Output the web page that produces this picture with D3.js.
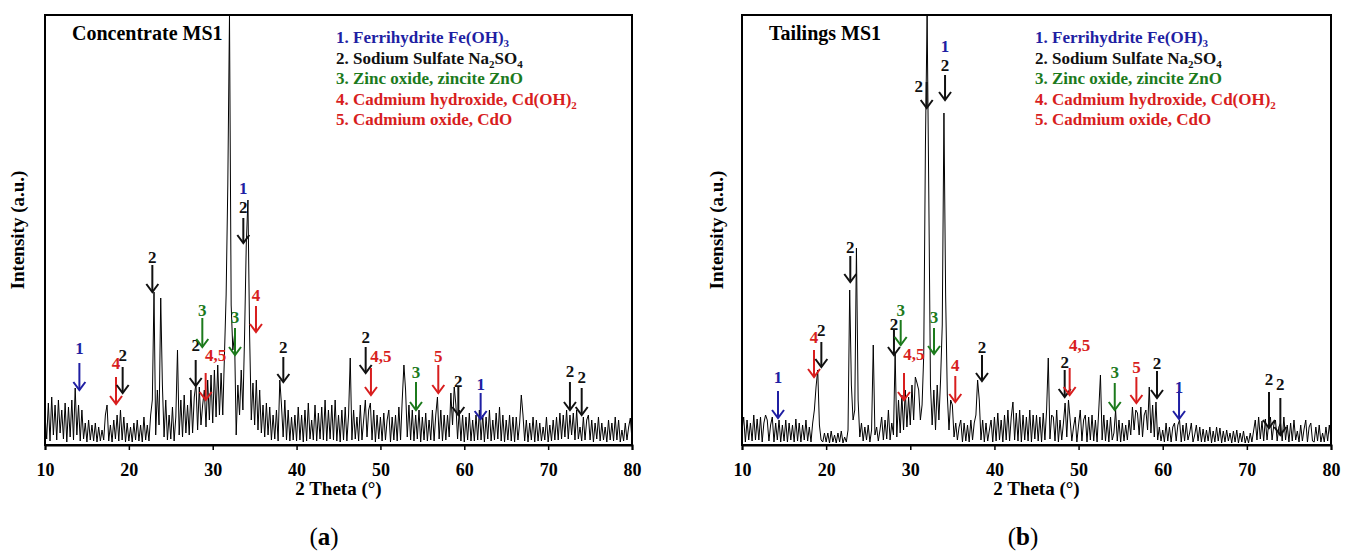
<!DOCTYPE html>
<html><head><meta charset="utf-8">
<script src="https://cdn.jsdelivr.net/npm/d3@7"></script>
<style>
body{margin:0;background:#fff}
svg{display:block}
text{font-family:"Liberation Serif","Times New Roman",serif}
</style>
</head><body>
<svg id="c" width="1352" height="552"></svg>
<script>
// ---------------- DATA ----------------
const thetaStart = 10, thetaStep = 0.2;   // 2θ sampling of the patterns (degrees)
const xTicks = [10, 20, 30, 40, 50, 60, 70, 80];

// Concentrate MS1 intensities (a.u.), 10.0° .. 80.0° every 0.2°
const intensityA = [
 30,6,42,4,48, 10,40,5,45,12, 35,6,42,3,38, 8,45,5,57,10, 40,4,35,6,22,
 3,25,5,20,4, 22,3,18,4,15, 5,30,40,4,20, 3,25,6,30,4, 35,5,28,3,22,
 4,18,3,22,5, 25,4,20,3,28, 5,20,4,30,45, 153,10,55,20,147, 60,8,45,5,30,
 6,38,4,28,95, 10,45,8,50,12, 40,10,55,12,48, 62,15,58,20,40, 55,18,65,25,70,
 22,75,28,80,30, 72,30,90,150,260, 430,140,95,110,10, 60,30,75,35,110, 200,245,110,25,62,
 20,65,15,55,12, 40,8,42,10,38, 5,30,6,35,4, 65,40,8,45,5, 35,4,28,5,30,
 4,38,5,30,3, 35,4,42,6,25, 5,40,4,32,6, 38,5,45,4,35, 6,40,5,45,4,
 30,3,35,5,38, 4,30,87,5,35, 6,28,4,40,5, 25,45,8,35,42, 5,35,3,30,6,
 28,4,32,5,25, 35,3,28,5,30, 4,38,5,45,80, 55,8,40,5,35, 4,30,6,35,3,
 28,5,32,4,25, 5,35,4,30,48, 6,35,4,30,5, 30,8,52,20,58, 40,6,35,4,30,
 3,28,5,32,4, 25,4,30,5,35, 5,30,3,28,6, 35,4,25,5,32, 6,38,4,30,3,
 25,5,30,4,28, 3,28,5,22,50, 30,4,25,3,22, 5,28,3,25,4, 22,4,18,5,28,
 3,20,4,25,5, 28,5,32,6,30, 8,35,6,30,10, 32,5,35,6,18, 4,28,5,25,30,
 5,25,3,22,6, 28,4,22,5,18, 3,25,5,22,4, 28,5,25,3,15, 4,22,5,18,27,
 5
];

// Tailings MS1 intensities (a.u.), 10.0° .. 80.0° every 0.2°
const intensityB = [
 15,28,3,25,5, 22,4,30,5,26, 5,28,3,22,30, 25,4,20,28,3, 22,5,25,3,20,
 4,25,3,22,5, 20,3,26,4,22, 3,20,5,25,4, 18,3,22,35,58, 75,20,5,3,12,
 3,12,2,14,3, 10,2,12,3,14, 2,8,3,15,155, 60,25,35,197,45, 8,22,4,18,5,
 20,3,15,100,10, 18,4,15,28,5, 25,6,35,5,22, 10,92,8,45,12, 50,15,55,18,48,
 20,60,25,68,62, 55,25,40,90,300, 430,250,60,20,55, 15,60,25,65,120, 332,150,50,15,45,
 40,8,22,5,18, 25,3,22,4,20, 3,25,5,22,30, 65,45,5,25,3, 22,4,15,25,3,
 28,4,32,5,25, 3,30,5,35,4, 28,43,5,32,4, 35,3,30,5,28, 4,35,3,30,6,
 30,4,28,3,32, 5,35,87,6,30, 28,4,35,3,25, 5,22,42,8,45, 25,4,18,28,3,
 20,35,4,25,30, 3,28,5,30,4, 25,3,35,70,5, 30,4,25,3,28, 5,12,35,4,25,
 3,22,4,20,5, 25,10,38,15,35, 32,10,38,8,30, 35,15,58,12,40, 8,43,5,18,4,
 15,3,22,4,18, 3,18,22,4,20, 25,3,20,4,22, 5,12,22,3,10, 20,4,18,3,16,
 3,15,4,18,2, 14,3,18,4,17, 2,14,3,15,4, 12,2,14,3,15, 2,12,3,14,2,
 9,2,12,3,14, 25,5,28,6,24, 4,26,5,22,28, 5,20,25,4,18, 22,4,28,5,20,
 3,22,4,25,5, 14,3,20,4,16, 25,3,18,22,4, 3,18,4,20,3, 12,3,18,4,20,
 6
];

// Phase legend (text segments; 1 = subscript)
const phaseLegend = [
  {phase:1, parts:[["1. Ferrihydrite Fe(OH)",0],["3",1]]},
  {phase:2, parts:[["2. Sodium Sulfate Na",0],["2",1],["SO",0],["4",1]]},
  {phase:3, parts:[["3. Zinc oxide, zincite ZnO",0]]},
  {phase:4, parts:[["4. Cadmium hydroxide, Cd(OH)",0],["2",1]]},
  {phase:5, parts:[["5. Cadmium oxide, CdO",0]]}
];
const phaseColor = {1:"#1f1fa3", 2:"#111111", 3:"#1c7a1c", 4:"#d81e1e", 5:"#d81e1e"};

// Peak markers: 2θ, arrow tip / arrow top / label centre intensities (a.u.), label, phase
const markersA = [
  {t:14.1,  tip:55,  top:82,  lab:97,  text:"1",   phase:1},
  {t:18.47, tip:41,  top:68,  lab:82,  text:"4",   phase:4},
  {t:19.26, tip:52,  top:78,  lab:90,  text:"2",   phase:2},
  {t:22.8,  tip:153, top:180, lab:188, text:"2",   phase:2},
  {t:27.97, tip:59,  top:85,  lab:100, text:"2",   phase:2},
  {t:28.76, tip:98,  top:127, lab:135, text:"3",   phase:3},
  {t:29.16, tip:45,  top:72,  lab:90,  text:"4,5", phase:4},
  {t:32.66, tip:90,  top:117, lab:128, text:"3",   phase:3},
  {t:33.65, tip:202, top:227, lab:238, text:"2",   phase:2, extra:"1", extraPhase:1},
  {t:35.16, tip:113, top:139, lab:150, text:"4",   phase:4},
  {t:38.42, tip:63,  top:88,  lab:98,  text:"2",   phase:2},
  {t:48.24, tip:72,  top:98,  lab:108, text:"2",   phase:2},
  {t:48.87, tip:50,  top:77,  lab:89,  text:"4,5", phase:4},
  {t:54.24, tip:35,  top:63,  lab:73,  text:"3",   phase:3},
  {t:56.9,  tip:52,  top:80,  lab:89,  text:"5",   phase:5},
  {t:59.29, tip:30,  top:58,  lab:64,  text:"2",   phase:2},
  {t:61.95, tip:26,  top:52,  lab:61,  text:"1",   phase:1},
  {t:72.6,  tip:35,  top:63,  lab:74,  text:"2",   phase:2},
  {t:74.0,  tip:30,  top:57,  lab:68,  text:"2",   phase:2}
];
const markersB = [
  {t:14.28, tip:27,  top:54,  lab:68,  text:"1",   phase:1},
  {t:18.56, tip:68,  top:95,  lab:108, text:"4",   phase:4},
  {t:19.43, tip:78,  top:103, lab:115, text:"2",   phase:2},
  {t:22.87, tip:163, top:189, lab:198, text:"2",   phase:2},
  {t:28.06, tip:90,  top:115, lab:121, text:"2",   phase:2},
  {t:28.86, tip:100, top:125, lab:135, text:"3",   phase:3},
  {t:29.25, tip:45,  top:72,  lab:91,  text:"4,5", phase:4},
  {t:31.95, tip:337, top:363, lab:359, text:"2",   phase:2, side:"left"},
  {t:32.82, tip:91,  top:117, lab:128, text:"3",   phase:3},
  {t:34.13, tip:345, top:370, lab:380, text:"2",   phase:2, extra:"1", extraPhase:1},
  {t:35.35, tip:43,  top:69,  lab:80,  text:"4",   phase:4},
  {t:38.52, tip:64,  top:90,  lab:98,  text:"2",   phase:2},
  {t:48.35, tip:48,  top:75,  lab:83,  text:"2",   phase:2},
  {t:48.94, tip:50,  top:77,  lab:100, text:"4,5", phase:4},
  {t:54.3,  tip:35,  top:62,  lab:73,  text:"3",   phase:3},
  {t:56.87, tip:42,  top:68,  lab:78,  text:"5",   phase:5},
  {t:59.32, tip:47,  top:74,  lab:82,  text:"2",   phase:2},
  {t:61.94, tip:26,  top:54,  lab:58,  text:"1",   phase:1},
  {t:72.63, tip:17,  top:53,  lab:66,  text:"2",   phase:2},
  {t:73.98, tip:10,  top:47,  lab:61,  text:"2",   phase:2}
];

const titles = ["Concentrate MS1", "Tailings MS1"];
const panelLetters = ["a", "b"];

// ---------------- DRAW ----------------
const svg = d3.select("#c");
const panels = [
  {left:45,  right:632,  data:intensityA, markers:markersA, title:titles[0], letter:panelLetters[0], titleX:72,  legendX:336,  ylabX:24,  letterX:324},
  {left:742, right:1331, data:intensityB, markers:markersB, title:titles[1], letter:panelLetters[1], titleX:769, legendX:1035, ylabX:723, letterX:1023}
];
const plotTop = 15, plotBottom = 445;

panels.forEach((p, pi) => {
  const x = d3.scaleLinear().domain([10, 80]).range([p.left, p.right]);
  const y = d3.scaleLinear().domain([0, 430]).range([plotBottom, plotTop]);
  const g = svg.append("g");

  const clipId = "clip" + pi;
  svg.append("clipPath").attr("id", clipId).append("rect")
    .attr("x", p.left).attr("y", plotTop).attr("width", p.right - p.left).attr("height", plotBottom - plotTop);

  const line = d3.line()
    .x((d, i) => x(thetaStart + i * thetaStep))
    .y(d => y(d));
  g.append("path").datum(p.data)
    .attr("clip-path", `url(#${clipId})`)
    .attr("d", line)
    .attr("fill", "none").attr("stroke", "#000").attr("stroke-width", 1).attr("stroke-linejoin", "miter");

  // frame
  g.append("rect").attr("x", p.left).attr("y", plotTop)
    .attr("width", p.right - p.left).attr("height", plotBottom - plotTop)
    .attr("fill", "none").attr("stroke", "#000").attr("stroke-width", 2);

  // x axis
  const ax = d3.axisBottom(x).tickValues(xTicks).tickSize(5).tickPadding(13).tickFormat(d3.format("d"));
  const axg = g.append("g").attr("transform", `translate(0,${plotBottom})`).call(ax);
  axg.select(".domain").attr("stroke-width", 2);
  axg.selectAll(".tick line").attr("stroke-width", 1.5);
  axg.selectAll(".tick text").attr("font-family", "Liberation Serif").attr("font-weight", "bold").attr("font-size", 18).attr("fill", "#000");

  g.append("text").attr("x", (p.left + p.right) / 2).attr("y", 495)
    .attr("text-anchor", "middle").attr("font-weight", "bold").attr("font-size", 19)
    .text("2 Theta (°)");

  g.append("text").attr("transform", `translate(${p.ylabX},${(plotTop + plotBottom) / 2}) rotate(-90)`)
    .attr("text-anchor", "middle").attr("font-weight", "bold").attr("font-size", 19)
    .text("Intensity (a.u.)");

  // title
  g.append("text").attr("x", p.titleX).attr("y", 40)
    .attr("font-weight", "bold").attr("font-size", 20).text(p.title);

  // legend
  phaseLegend.forEach((L, i) => {
    const t = g.append("text").attr("x", p.legendX).attr("y", 43 + i * 20.5)
      .attr("font-weight", "bold").attr("font-size", 17).attr("fill", phaseColor[L.phase]);
    let prevSub = false;
    L.parts.forEach(([s, sub]) => {
      const ts = t.append("tspan").text(s);
      if (sub) { ts.attr("font-size", 11).attr("dy", 4); }
      else if (prevSub) { ts.attr("dy", -4); }
      prevSub = !!sub;
    });
  });

  // markers
  p.markers.forEach(m => {
    const cx = x(m.t), col = phaseColor[m.phase];
    const yt = y(m.tip), y0 = y(m.top);
    g.append("line").attr("x1", cx).attr("x2", cx).attr("y1", y0).attr("y2", yt)
      .attr("stroke", col).attr("stroke-width", 2);
    g.append("path").attr("d", `M${cx - 6},${yt - 8}L${cx},${yt}L${cx + 6},${yt - 8}`)
      .attr("fill", "none").attr("stroke", col).attr("stroke-width", 2);
    let dx = 0;
    if (m.text.length > 1) dx = 10;
    if (m.side === "left") dx = -8;
    g.append("text").attr("x", cx + dx).attr("y", y(m.lab) + 6)
      .attr("text-anchor", "middle").attr("font-weight", "bold").attr("font-size", 17)
      .attr("fill", col).text(m.text);
    if (m.extra) {
      g.append("text").attr("x", cx).attr("y", y(m.lab) + 6 - 19)
        .attr("text-anchor", "middle").attr("font-weight", "bold").attr("font-size", 17)
        .attr("fill", phaseColor[m.extraPhase]).text(m.extra);
    }
  });

  // panel letter
  const lt = g.append("text").attr("x", p.letterX).attr("y", 545).attr("text-anchor", "middle").attr("font-size", 25);
  lt.append("tspan").text("(");
  lt.append("tspan").attr("font-weight", "bold").text(p.letter);
  lt.append("tspan").text(")");
});
</script>
</body></html>
